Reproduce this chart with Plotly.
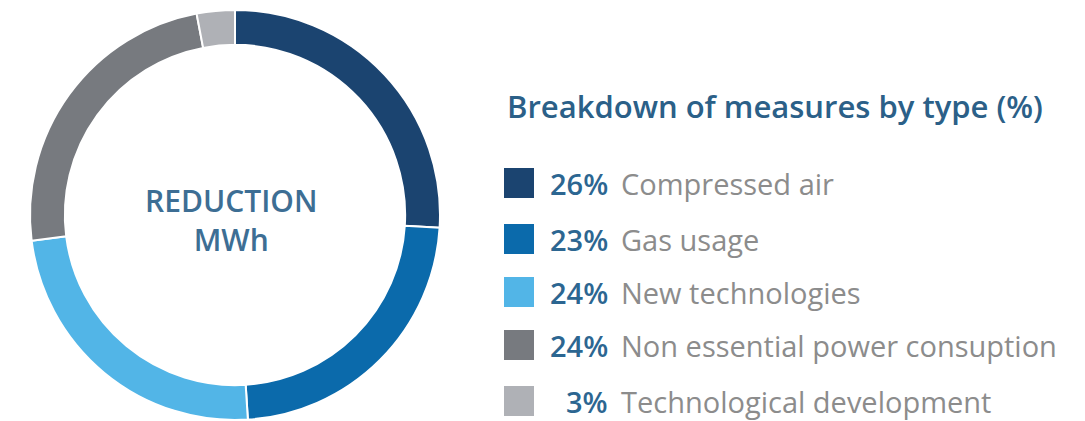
import plotly.graph_objects as go

# Energy-saving measures by type
categories = ["Compressed air", "Gas usage", "New technologies",
              "Non essential power consuption", "Technological development"]
shares = [26, 23, 24, 24, 3]
colors = ["#1b4470", "#0b6aab", "#52b5e7", "#777a7f", "#afb1b6"]

W, H = 1085, 421
FONT = "Open Sans"

fig = go.Figure()
fig.add_trace(go.Pie(
    labels=categories,
    values=shares,
    hole=0.83,
    sort=False,
    direction="clockwise",
    rotation=0,
    marker=dict(colors=colors, line=dict(color="white", width=2)),
    textinfo="none",
    hoverinfo="label+percent",
    showlegend=False,
    domain=dict(x=[28 / W, 442 / W], y=[1 - 420 / H, 1 - 10 / H]),
))

# Centre label of the ring
fig.add_annotation(x=231 / W, y=1 - 220 / H, xref="paper", yref="paper",
                   text="REDUCTION<br>MWh", showarrow=False,
                   font=dict(family=FONT, size=30, color="#3d6e94", weight=600),
                   align="center", xanchor="center", yanchor="middle")

# Title of the breakdown list
fig.add_annotation(x=505 / W, y=1 - 106 / H, xref="paper", yref="paper",
                   text="Breakdown of measures by type (%)", showarrow=False,
                   font=dict(family=FONT, size=31, color="#2b6088", weight=600),
                   xanchor="left", yanchor="middle")

# Custom legend rows: swatch, share, category name
row_y = [183, 239, 292, 345, 401]
for i, (cat, val, col) in enumerate(zip(categories, shares, colors)):
    yc = row_y[i]
    fig.add_shape(type="rect", xref="paper", yref="paper",
                  x0=504 / W, x1=534 / W,
                  y0=1 - (yc + 15) / H, y1=1 - (yc - 15) / H,
                  fillcolor=col, line=dict(width=0))
    fig.add_annotation(x=610 / W, y=1 - yc / H, xref="paper", yref="paper",
                       text=f"{val}%", showarrow=False,
                       font=dict(family=FONT, size=29, color="#2c6691", weight=600),
                       xanchor="right", yanchor="middle")
    fig.add_annotation(x=619 / W, y=1 - yc / H, xref="paper", yref="paper",
                       text=cat, showarrow=False,
                       font=dict(family=FONT, size=29, color="#8c8c8c"),
                       xanchor="left", yanchor="middle")

fig.update_layout(
    width=W, height=H,
    margin=dict(l=0, r=0, t=0, b=0),
    paper_bgcolor="white", plot_bgcolor="white",
)

fig.write_html("out.html")
